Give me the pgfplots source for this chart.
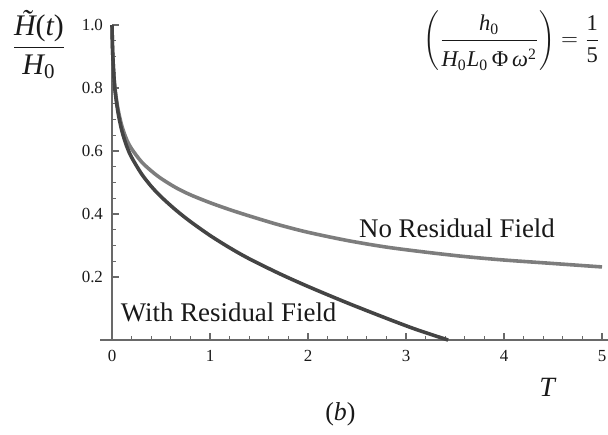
\documentclass[border=0pt]{standalone}
\usepackage{fontspec}
\setmainfont{Liberation Serif}
\usepackage{pgfplots}
\pgfplotsset{compat=1.18}
\definecolor{upc}{RGB}{125,125,125}
\definecolor{loc}{RGB}{68,68,68}
\definecolor{axc}{RGB}{105,105,105}
\definecolor{txc}{RGB}{25,25,25}
\pgfplotstableread{
T y
0 1.0
0.005 0.93
0.015 0.86
0.03 0.80
0.06 0.735
0.1 0.68
0.15 0.636
0.2 0.607
0.3 0.566
0.4 0.537
0.5 0.513
0.65 0.484
0.8 0.461
1.0 0.436
1.2 0.414
1.4 0.394
1.7 0.366
2.0 0.342
2.4 0.316
2.8 0.295
3.2 0.279
3.6 0.265
4.0 0.254
4.5 0.243
5.0 0.232
}\noresid
\pgfplotstableread{
T y
0 1.0
0.005 0.93
0.015 0.86
0.03 0.795
0.06 0.725
0.1 0.665
0.15 0.615
0.2 0.58
0.3 0.528
0.4 0.488
0.5 0.455
0.65 0.413
0.8 0.376
1.0 0.332
1.2 0.293
1.4 0.258
1.7 0.212
2.0 0.170
2.4 0.118
2.8 0.069
3.1 0.034
3.43 0.0
}\withresid
\begin{document}
\begin{tikzpicture}
\begin{axis}[
  scale only axis, width=253.8bp, height=157.5bp,
  xmin=-0.12, xmax=5.06, ymin=0, ymax=1.0,
  axis x line=bottom, axis y line=middle,
  axis line style={axc, line width=0.8pt, -},
  every tick/.style={axc, line width=0.6pt},
  tick align=inside,
  major tick length=3.5bp, minor tick length=2bp,
  xtick={0,1,2,3,4,5}, ytick={0.2,0.4,0.6,0.8,1.0},
  yticklabels={0.2,0.4,0.6,0.8,1.0},
  minor x tick num=4, minor y tick num=3,
  /pgf/number format/assume math mode=true,
  tick label style={font=\fontsize{8.5}{10}\selectfont, text=txc},
  xticklabel style={yshift=-1.5bp},
  yticklabel style={xshift=-1bp},
  clip=false,
]
\addplot[upc, line width=1.8pt, smooth] table[x=T,y=y] {\noresid};
\addplot[loc, line width=1.8pt, smooth] table[x=T,y=y] {\withresid};
\node[text=txc, font=\fontsize{13.5}{16}\selectfont] at (axis cs:3.52,0.356) {No Residual Field};
\node[text=txc, font=\fontsize{13.5}{16}\selectfont] at (axis cs:1.19,0.089) {With Residual Field};
\node[text=txc, font=\fontsize{14}{16}\selectfont] at (axis cs:4.44,-0.149) {\itshape T};
\node[text=txc, font=\fontsize{13}{16}\selectfont] at (axis cs:2.33,-0.235) {(\itshape b\upshape)};
\node[text=txc, font=\fontsize{15}{18}\selectfont] at (axis cs:-0.745,0.937) {$\displaystyle\frac{\mbox{\itshape\~{H}\upshape(\itshape t\upshape)}}{\mbox{\itshape H\upshape\textsubscript{0}}}$};
\node[text=txc, font=\fontsize{11.3}{14}\selectfont, inner sep=0pt] at (axis cs:4.08,0.95) {$\left(\rule[-13.5pt]{0pt}{32pt}\displaystyle\frac{\mbox{\itshape h\upshape\textsubscript{0}}\rule[-3pt]{0pt}{0pt}}{\rule{0pt}{12pt}\mbox{\itshape H\upshape\textsubscript{0}\itshape L\upshape\textsubscript{0}\,Φ\,\itshape ω\upshape\textsuperscript{2}}}\right)=\displaystyle\frac{\mbox{1}\rule[-2pt]{0pt}{0pt}}{\rule{0pt}{10pt}\mbox{5}}$};
\coordinate (bl) at (axis cs:-1.1429,-0.2984);
\coordinate (tr) at (axis cs:5.061,1.0794);
\end{axis}
\pgfresetboundingbox
\path[use as bounding box] (bl) rectangle (tr);
\end{tikzpicture}
\end{document}
